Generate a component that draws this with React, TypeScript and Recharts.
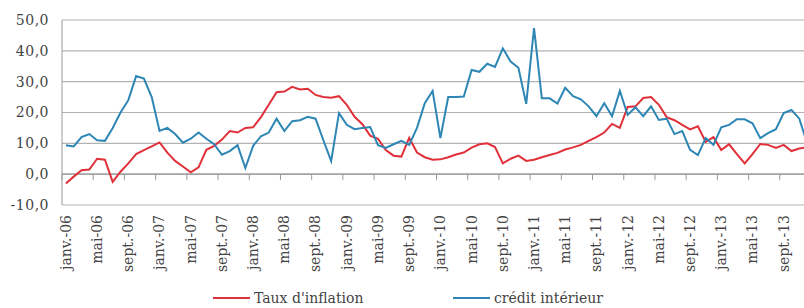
import { CartesianGrid, Line, LineChart, ReferenceLine, XAxis, YAxis } from "recharts";

// monthly labels, janv.-06 .. déc.-13
const MOIS = ["janv.", "févr.", "mars", "avr.", "mai", "juin", "juil.", "août", "sept.", "oct.", "nov.", "déc."];
const ANNEES = ["06", "07", "08", "09", "10", "11", "12", "13"];
const months = ANNEES.flatMap((a) => MOIS.map((m) => `${m}-${a}`));

const inflation = [
  -3, -0.8, 1.3, 1.5, 5, 4.7, -2.5, 0.8, 3.5, 6.5, 7.8, 9,
  10.3, 7, 4.3, 2.5, 0.6, 2.2, 7.9, 9.2, 11.2, 14, 13.5, 15,
  15.2, 18.5, 22.5, 26.6, 26.8, 28.3, 27.5, 27.7, 25.7, 25, 24.8, 25.3,
  22.5, 18.6, 16.2, 12.5, 11.5, 7.8, 6, 5.7, 11.8, 7, 5.5, 4.7,
  4.8, 5.5, 6.4, 7, 8.6, 9.7, 10, 8.8, 3.5, 5, 6, 4.3,
  4.7, 5.5, 6.2, 6.9, 8, 8.7, 9.5, 10.8, 12, 13.5, 16.3, 15,
  21.8, 22, 24.7, 25, 22.5, 18.5, 17.5, 16, 14.5, 15.5, 10.5, 12,
  7.8, 9.7, 6.5, 3.5, 6.5, 9.8, 9.5, 8.5, 9.5, 7.5, 8.3, 8.7,
];

const credit = [
  9.4, 9, 12, 13, 11, 10.8, 15, 20, 24, 31.8, 31, 25,
  14, 15, 13, 10.2, 11.5, 13.5, 11.5, 9.7, 6.3, 7.5, 9.4, 2,
  9.2, 12.3, 13.5, 18, 14, 17.2, 17.5, 18.6, 18, 11, 4.2, 19.8,
  16, 14.6, 15, 15.3, 9.4, 8.5, 9.7, 10.8, 9.5, 15, 23, 27,
  11.7, 25, 25, 25.2, 33.8, 33.2, 35.8, 34.8, 40.8, 36.5, 34.5, 22.8,
  47.4, 24.6, 24.6, 22.9, 28, 25.3, 24.3, 22, 18.8, 23, 18.8, 27,
  19.2, 21.7, 18.8, 22, 17.6, 18, 13, 14, 7.9, 6.2, 11.7, 9.5,
  15.2, 16, 17.8, 17.8, 16.5, 11.7, 13.3, 14.6, 19.8, 20.8, 18, 10,
];

const yTicks = [-10, 0, 10, 20, 30, 40, 50];

const data = months.map((mois, i) => ({ mois, inflation: inflation[i], credit: credit[i] }));

const RED = "#e0313a";
const BLUE = "#2e86b5";
const INK = "#444";
const FONT = "'DejaVu Serif', 'Liberation Serif', 'Noto Serif', serif";

const AXIS_W = 62;
const PLOT_W = 749;
const TOP = 20;
const PLOT_H = 185;
const STEP = PLOT_W / months.length;
const ZERO_Y = TOP + (PLOT_H * 50) / 60;

function MonthTick(props: any) {
  const { x, y, payload } = props;
  const bx = x - STEP / 2;
  return (
    <g>
      <line x1={bx} x2={bx} y1={ZERO_Y} y2={ZERO_Y + 6} stroke="#999" strokeWidth={1} />
      <text
        transform={`translate(${x},${y + 10}) rotate(-90)`}
        textAnchor="end"
        dy="0.35em"
        fontSize={14}
        fill={INK}
        style={{ fontFamily: FONT }}
      >
        {payload.value}
      </text>
    </g>
  );
}

function ValueTick(props: any) {
  const { x, y, payload } = props;
  return (
    <text
      x={x}
      y={y}
      dy="0.35em"
      textAnchor="end"
      fontSize={14}
      letterSpacing={0.5}
      fill={INK}
      style={{ fontFamily: FONT }}
    >
      {Number(payload.value).toFixed(1).replace(".", ",")}
    </text>
  );
}

export default function App() {
  return (
    <div
      style={{
        position: "absolute",
        left: 0,
        top: 0,
        width: 804,
        height: 308,
        overflow: "hidden",
        background: "#fff",
        fontFamily: FONT,
      }}
    >
      <LineChart
        width={AXIS_W + PLOT_W}
        height={308}
        data={data}
        margin={{ top: TOP, right: 0, bottom: 0, left: 0 }}
        style={{ fontFamily: FONT }}
      >
        <CartesianGrid vertical={false} stroke="#b3b3b3" strokeWidth={1.2} />
        <XAxis
          dataKey="mois"
          interval={3}
          height={308 - TOP - PLOT_H}
          padding={{ left: STEP / 2, right: STEP / 2 }}
          axisLine={false}
          tickLine={false}
          tickSize={0}
          tickMargin={0}
          tick={MonthTick}
        />
        <YAxis
          width={AXIS_W}
          domain={[-10, 50]}
          ticks={yTicks}
          interval={0}
          axisLine={{ stroke: "#999", strokeWidth: 1 }}
          tickLine={false}
          tickSize={0}
          tickMargin={13}
          tick={ValueTick}
        />
        <ReferenceLine y={0} stroke="#999" strokeWidth={1.2} />
        <Line
          type="linear"
          dataKey="inflation"
          stroke={RED}
          strokeWidth={2}
          dot={false}
          isAnimationActive={false}
        />
        <Line
          type="linear"
          dataKey="credit"
          stroke={BLUE}
          strokeWidth={2}
          dot={false}
          isAnimationActive={false}
        />
      </LineChart>
      <div style={{ position: "absolute", left: 213, top: 297, width: 37, height: 2, background: RED }} />
      <div style={{ position: "absolute", left: 254, top: 288, fontSize: 14, lineHeight: "20px", color: INK }}>
        Taux d'inflation
      </div>
      <div style={{ position: "absolute", left: 453, top: 297, width: 37, height: 2, background: BLUE }} />
      <div style={{ position: "absolute", left: 494, top: 288, fontSize: 14, lineHeight: "20px", color: INK }}>
        crédit intérieur
      </div>
    </div>
  );
}
